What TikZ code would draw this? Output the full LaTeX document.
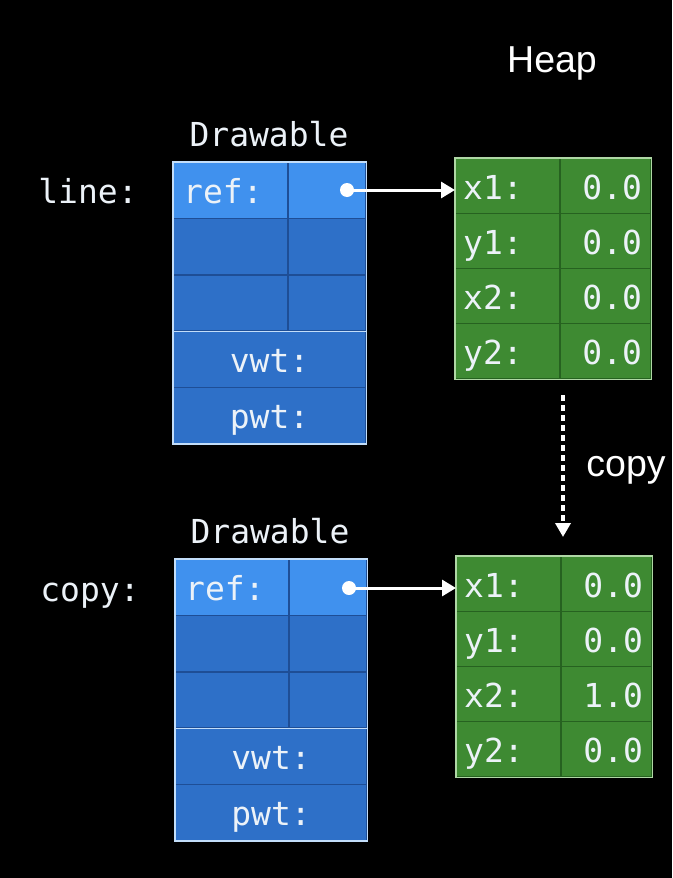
\documentclass[tikz,border=0pt]{standalone}
\usepackage{fontspec}
\setmainfont{Liberation Sans}
\setmonofont{DejaVu Sans Mono}
\usetikzlibrary{arrows.meta,calc}
\definecolor{bluelt}{RGB}{64,145,238}
\definecolor{bluedk}{RGB}{46,112,200}
\definecolor{bluedv}{RGB}{30,78,150}
\definecolor{blueed}{RGB}{195,222,250}
\definecolor{greenc}{RGB}{62,138,50}
\definecolor{greendv}{RGB}{38,98,32}
\definecolor{greened}{RGB}{175,215,165}
\definecolor{txt}{RGB}{236,242,248}
\tikzset{
  monotxt/.style={font=\ttfamily\fontsize{33}{38}\selectfont, text=txt, inner sep=0pt},
  sanstxt/.style={font=\fontsize{37.5}{42}\selectfont, text=white, inner sep=0pt},
  bcell/.style={draw=bluedv, line width=1.2pt, inner sep=0pt, anchor=north west},
  gcell/.style={draw=greendv, line width=1.2pt, inner sep=0pt, anchor=north west, fill=greenc},
  bedge/.style={draw=blueed, line width=1.3pt},
  gedge/.style={draw=greened, line width=1.3pt},
  ptr/.style={draw=white, line width=3pt, -{Triangle[width=16pt,length=14pt]}},
  dotarrow/.style={draw=white, line width=3.5pt, dash pattern=on 6pt off 4pt, -{Triangle[width=15pt,length=14pt]}},
  ptrdot/.style={circle, fill=white, minimum size=14pt, inner sep=0pt}
}
% name, x0, y0, width, divider offset
\newcommand{\bluestack}[5]{%
  \node[bcell, fill=bluelt, minimum width=#4pt, minimum height=56pt] (#11) at (#2,#3) {};
  \foreach \i in {2,...,5}{
    \node[bcell, fill=bluedk, minimum width=#4pt, minimum height=56pt] (#1\i) at (#2,{#3+(\i-1)*56.2}) {};
  }
  \draw[bluedv, line width=1.2pt] ({#2+#5},#3) -- ({#2+#5},{#3+3*56.2});
  \draw[bedge] (#13.south west) -- (#13.south east);
  \draw[bedge] (#11.north west) rectangle (#15.south east);
  \node[monotxt, anchor=base west] (#1r) at ($(#11.west)+(10,13)$) {ref:};
  \node[monotxt, anchor=base] (#1v) at ($(#14.center)+(0,13)$) {vwt:};
  \node[monotxt, anchor=base] (#1p) at ($(#15.center)+(0,13)$) {pwt:};
}
% name, x0, y0, values
\newcommand{\greenstack}[7]{%
  \node[gcell, minimum width=195pt, minimum height=55pt] (#11) at (#2,#3) {};
  \node[gcell, minimum width=195pt, minimum height=55pt] (#12) at (#2,{#3+55}) {};
  \node[gcell, minimum width=195pt, minimum height=55pt] (#13) at (#2,{#3+110}) {};
  \node[gcell, minimum width=195pt, minimum height=55pt] (#14) at (#2,{#3+165}) {};
  \draw[greendv, line width=1.2pt] ({#2+105},#3) -- ({#2+105},{#3+220});
  \draw[gedge] (#11.north west) rectangle (#14.south east);
  \node[monotxt, anchor=base west] (#1a) at ($(#11.west)+(8,13)$) {x1:};
  \node[monotxt, anchor=base west] (#1b) at ($(#12.west)+(8,13)$) {y1:};
  \node[monotxt, anchor=base west] (#1c) at ($(#13.west)+(8,13)$) {x2:};
  \node[monotxt, anchor=base west] (#1d) at ($(#14.west)+(8,13)$) {y2:};
  \node[monotxt, anchor=base east] (#1e) at ($(#11.east)+(-9,13)$) {#4};
  \node[monotxt, anchor=base east] (#1f) at ($(#12.east)+(-9,13)$) {#5};
  \node[monotxt, anchor=base east] (#1g) at ($(#13.east)+(-9,13)$) {#6};
  \node[monotxt, anchor=base east] (#1h) at ($(#14.east)+(-9,13)$) {#7};
}
\begin{document}
\begin{tikzpicture}[x=1pt,y=-1pt]
\fill[black] (0,0) rectangle (672,878);
\useasboundingbox (0,0) rectangle (672,878);

\node[sanstxt, anchor=base] (heap) at (552,72) {Heap};

% top struct
\node[monotxt, anchor=base] (dr1) at (269,146) {Drawable};
\node[monotxt, anchor=base] (line) at (88,203) {line:};
\bluestack{A}{173}{162}{192}{115}

% bottom struct
\node[monotxt, anchor=base] (dr2) at (270,543) {Drawable};
\node[monotxt, anchor=base] (copyv) at (90,601) {copy:};
\bluestack{B}{175}{559}{191}{114}

% heap objects
\greenstack{G}{455}{158}{0.0}{0.0}{0.0}{0.0}
\greenstack{H}{456}{556}{0.0}{0.0}{1.0}{0.0}

% pointers
\node[ptrdot] (Adot) at (347,190) {};
\node[ptrdot] (Bdot) at (349,588) {};
\draw[ptr] (Adot.center) -- (Adot.center -| G1.west);
\draw[ptr] (Bdot.center) -- (Bdot.center -| H1.west);

% copy arrow
\coordinate (cs) at (563,395);
\coordinate (ce) at (563,537);
\draw[dotarrow] (cs) -- (ce);
\node[sanstxt, anchor=base] (copylbl) at (626,476) {copy};
\end{tikzpicture}
\end{document}
